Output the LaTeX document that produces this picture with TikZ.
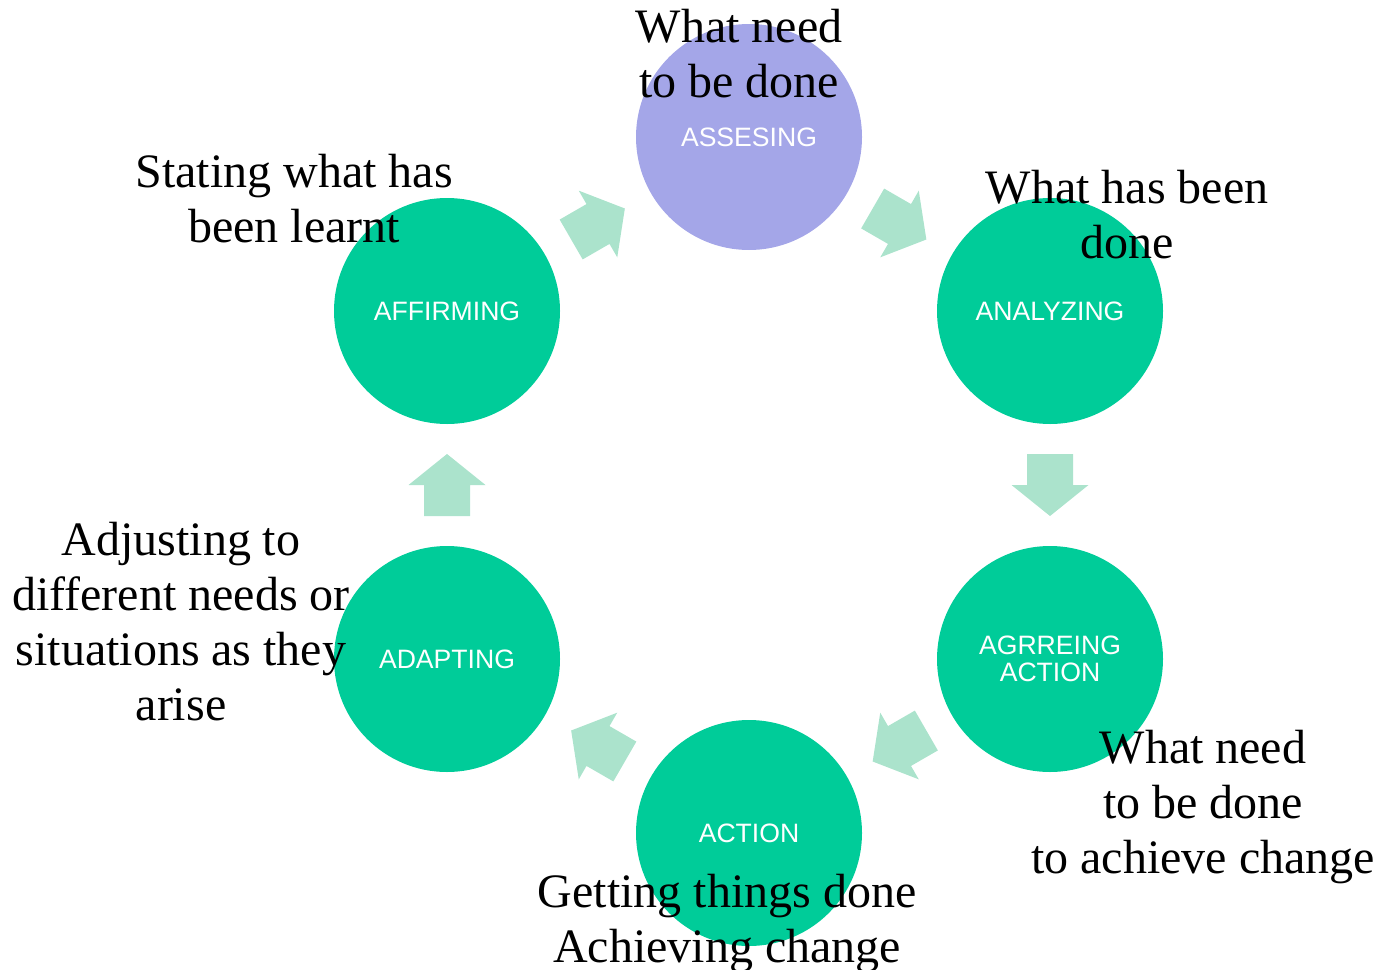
\documentclass[tikz,border=0pt]{standalone}
\usepackage{fontspec}
\setmainfont{Liberation Serif}
\newfontfamily\circfont{Liberation Sans}
\usetikzlibrary{calc}
\definecolor{stagegreen}{HTML}{00CC99}
\definecolor{stagepurple}{HTML}{A4A6E8}
\definecolor{arrowgreen}{HTML}{ABE3CC}
\tikzset{
  stage/.style={circle, fill=stagegreen, minimum size=226pt, inner sep=0pt,
    text=white, align=center, font=\circfont\fontsize{26.6}{27.5}\selectfont},
  note/.style={align=center, inner sep=0pt, font=\fontsize{48}{55}\selectfont},
  flow/.style={fill=arrowgreen}
}

\begin{document}
\begin{tikzpicture}[x=1pt,y=-1pt]
    \useasboundingbox (0,0) rectangle (1383,969);

    % the six stages
    \node[stage, fill=stagepurple] (ass) at (749,137) {ASSESING};
    \node[stage] (ana) at (1050,311) {ANALYZING};
    \node[stage] (agr) at (1050,659) {AGRREING\\ACTION};
    \node[stage] (act) at (749,833) {ACTION};
    \node[stage] (ada) at (447,659) {ADAPTING};
    \node[stage] (aff) at (447,311) {AFFIRMING};

    % block arrows between them
    \foreach \a/\b/\ang in {aff/ass/30, ass/ana/-30, ana/agr/-90, agr/act/-150, act/ada/150, ada/aff/90}
      \fill[flow, shift={($(\a)!0.5!(\b)$)}, rotate=\ang]
        (-31,-23) -- (0,-23) -- (0,-38.5) -- (31,0) -- (0,38.5) -- (0,23) -- (-31,23) -- cycle;

    % notes
    \node[note] (nass) at (739,54) {What need\\to be done};
    \node[note] (naff) at (294,199) {Stating what has\\been learnt};
    \node[note] (nana) at (1127,215) {What has been\\done};
    \node[note] (nada) at (181,622) {Adjusting to\\different needs or\\situations as they\\arise};
    \node[note] (nagr) at (1203,807) {What need\\to be done\\to achieve change};
    \node[note] (nact) at (727,924) {Getting things done\\Achieving change};
\end{tikzpicture}
\end{document}
